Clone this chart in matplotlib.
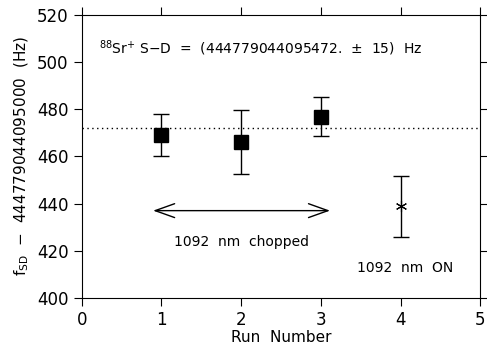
import matplotlib.pyplot as plt
from matplotlib.ticker import MultipleLocator

# run data
runs_chopped = [1, 2, 3]
freq_chopped = [469.0, 466.0, 476.5]
err_lo_chopped = [9.0, 13.5, 8.0]
err_hi_chopped = [9.0, 13.5, 8.5]

runs_on = [4]
freq_on = [439.0]
err_lo_on = [13.0]
err_hi_on = [12.5]

mean_freq = 472.0

plt.rcParams['font.family'] = 'DejaVu Sans'
plt.rcParams['font.size'] = 10

fig = plt.figure(figsize=(4.87, 3.46), dpi=100)
ax = fig.add_axes([0.168, 0.139, 0.818, 0.818])

ax.axhline(mean_freq, color='black', linestyle=(0, (1, 2.5)), linewidth=1)

ax.errorbar(runs_chopped, freq_chopped, yerr=[err_lo_chopped, err_hi_chopped],
            fmt='s', color='black', markersize=10, capsize=6,
            elinewidth=1, capthick=1)
ax.errorbar(runs_on, freq_on, yerr=[err_lo_on, err_hi_on],
            fmt='none', ecolor='black', capsize=6, elinewidth=1, capthick=1)
ax.plot(runs_on, freq_on, linestyle='none', marker=(6, 2, 0), color='black',
        markersize=8, mew=0.8)

ax.annotate('', xy=(0.86, 437), xytext=(3.15, 437),
            arrowprops=dict(arrowstyle='<->,head_length=1.4,head_width=0.5',
                            color='black', lw=1))
ax.text(2.0, 423.5, '1092  nm  chopped', ha='center', va='center', fontsize=10)
ax.text(4.06, 412.5, '1092  nm  ON', ha='center', va='center', fontsize=10)
ax.text(0.22, 506, r'$^{88}$Sr$^{+}$ S$-$D  =  (444779044095472.  $\pm$  15)  Hz',
        ha='left', va='center', fontsize=10)

ax.set_xlim(0, 5)
ax.set_ylim(400, 520)
ax.xaxis.set_major_locator(MultipleLocator(1))
ax.yaxis.set_major_locator(MultipleLocator(20))
ax.tick_params(direction='out', top=True, right=True, labeltop=False,
               labelright=False, length=6, labelsize=12)
ax.set_xlabel('Run  Number', fontsize=11, labelpad=1)
ax.set_ylabel(r'f$_{\rm SD}$  $-$  444779044095000  (Hz)', fontsize=11, labelpad=4)

fig.savefig('out.png', dpi=100)
